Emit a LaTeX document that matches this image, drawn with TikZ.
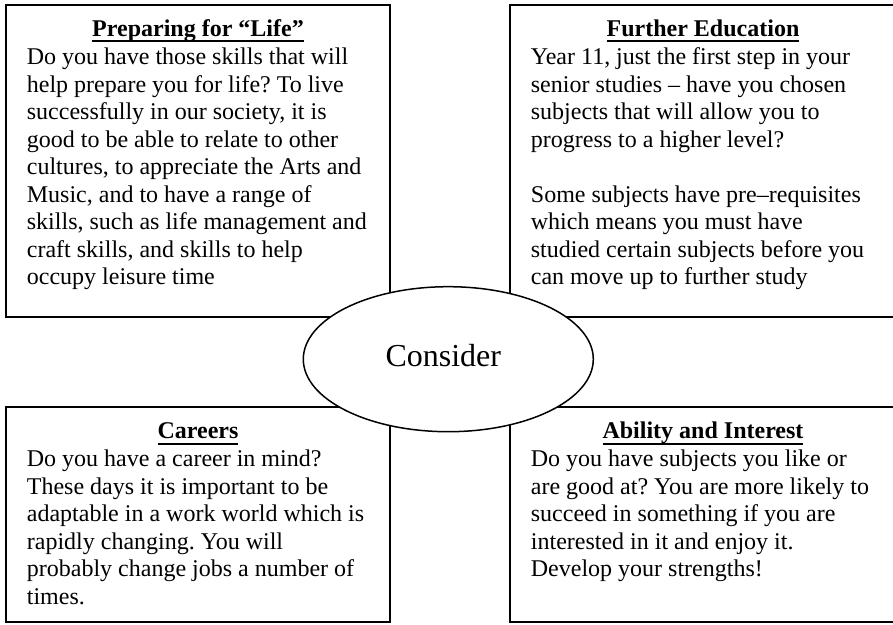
\documentclass[tikz,border=0pt]{standalone}
\usepackage{fontspec}
\setmainfont{Liberation Serif}
\usetikzlibrary{shapes.geometric}
\frenchspacing
\newcommand\myul[1]{\setbox0\hbox{#1}\rlap{\rule[-2.9pt]{\wd0}{1pt}}\box0}
\tikzset{
  panel/.style={draw, line width=1pt, anchor=north west, inner sep=0pt, outer sep=0pt},
  paneltitle/.style={anchor=base, inner sep=0pt, font=\fontsize{12}{13.75}\selectfont\bfseries},
  panelbody/.style={anchor=north west, inner sep=0pt, align=left, font=\fontsize{12}{13.75}\selectfont\frenchspacing},
  hub/.style={draw, ellipse, fill=white, line width=0.75pt, inner sep=0pt, minimum width=145pt, minimum height=72.5pt},
  hubtext/.style={anchor=base, inner sep=0pt, font=\fontsize{16}{19}\selectfont}
}
\begin{document}
\begin{tikzpicture}[x=0.5pt,y=-0.5pt]
\useasboundingbox (0,0) rectangle (893,625);
% boxes
\node[panel, minimum width=192pt, minimum height=155.8pt] (tl) at (6,5) {};
\node[panel, minimum width=193pt, minimum height=155.8pt] (tr) at (510,5) {};
\node[panel, minimum width=192pt, minimum height=107.5pt] (bl) at (6,406.7) {};
\node[panel, minimum width=193pt, minimum height=107.5pt] (br) at (510,406.7) {};
% titles
\node[paneltitle] (tlt) at (198,36.7) {\myul{Preparing for “Life”}};
\node[paneltitle] (trt) at (703,36.7) {\myul{Further Education}};
\node[paneltitle] (blt) at (198,438.8) {\myul{Careers}};
\node[paneltitle] (brt) at (703,438.8) {\myul{Ability and Interest}};
% bodies
\node[panelbody] (tlb) at (26.5,44.95) {\strut Do you have those skills that will\\
help prepare you for life? To live\\
successfully in our society, it is\\
good to be able to relate to other\\
cultures, to appreciate the Arts and\\
Music, and to have a range of\\
skills, such as life management and\\
craft skills, and skills to help\\
occupy leisure time};
\node[panelbody] (trb) at (530.5,44.95) {\strut Year 11, just the first step in your\\
senior studies – have you chosen\\
subjects that will allow you to\\
progress to a higher level?\\[13.75pt]
Some subjects have pre–requisites\\
which means you must have\\
studied certain subjects before you\\
can move up to further study};
\node[panelbody] (blb) at (26.5,447.05) {\strut Do you have a career in mind?\\
These days it is important to be\\
adaptable in a work world which is\\
rapidly changing. You will\\
probably change jobs a number of\\
times.};
\node[panelbody] (brb) at (530.5,447.05) {\strut Do you have subjects you like or\\
are good at? You are more likely to\\
succeed in something if you are\\
interested in it and enjoy it.\\
Develop your strengths!};
% centre ellipse
\node[hub] (hub) at (448.3,359.2) {};
\node[hubtext] (consider) at (443.3,366.7) {Consider};
\end{tikzpicture}
\end{document}
